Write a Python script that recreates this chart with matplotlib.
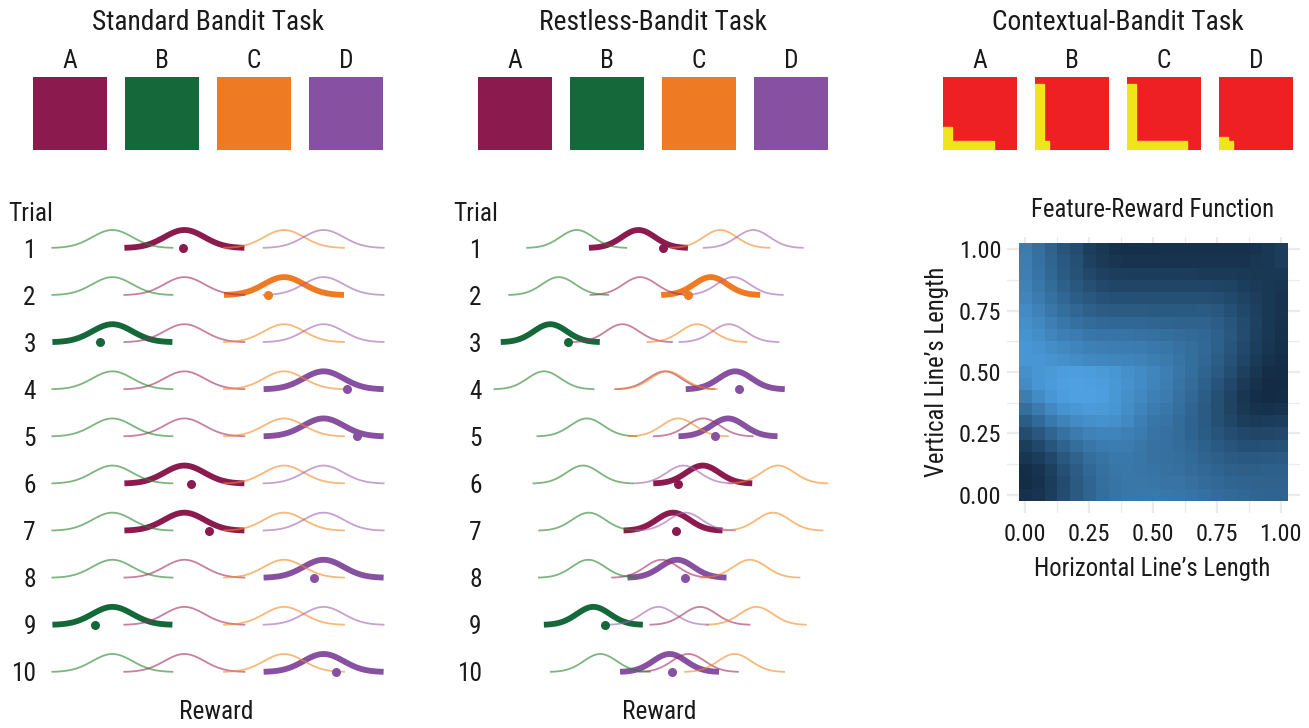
import numpy as np
import matplotlib
matplotlib.use("Agg")
import matplotlib.pyplot as plt
from matplotlib.colors import LinearSegmentedColormap
from matplotlib.patches import Rectangle
from matplotlib import font_manager

# ---------------- data ----------------
arms = ["A", "B", "C", "D"]
arm_colors = ["#8B1A4F", "#14683A", "#EE7A24", "#8750A1"]
thin_colors = ["#A22B61", "#26852A", "#F38921", "#A361B1"]
trials = list(range(1, 11))

# Standard bandit: fixed means per arm (A, B, C, D)
std_means = [7.22, 3.62, 12.2, 14.18]
std_choice = [0, 2, 1, 3, 3, 0, 0, 3, 1, 3]
std_reward = [7.15, 11.42, 3.0, 15.37, 15.87, 7.55, 8.45, 13.72, 2.75, 14.78]

# Restless bandit: means per trial and arm
rst_A = [9.6, 9.7, 8.63, 11.2, 13.53, 13.5, 11.7, 11.01, 13.33, 12.63]
rst_B = [5.86, 4.77, 4.26, 3.88, 6.48, 6.24, 6.59, 6.57, 6.87, 7.29]
rst_C = [14.55, 13.98, 13.15, 11.35, 12.02, 18.06, 17.76, 16.36, 16.75, 15.43]
rst_D = [16.56, 15.35, 15.09, 15.47, 15.03, 12.32, 12.45, 11.94, 10.81, 11.49]
rst_choice = [0, 2, 1, 3, 3, 0, 0, 3, 1, 3]
rst_reward = [11.07, 12.59, 5.31, 15.72, 14.26, 11.98, 11.88, 12.44, 7.58, 11.65]

# Contextual stimuli: line lengths (fraction of the square)
ctx_horizontal = [0.69, 0.19, 0.81, 0.19]
ctx_vertical = [0.31, 0.91, 0.91, 0.18]

# Feature-reward function (rows: vertical length 1.00 -> 0.00, cols: horizontal 0.00 -> 1.00)
grid_ticks = [0.00, 0.25, 0.50, 0.75, 1.00]
reward_grid = [
    [0.60,0.52,0.42,0.32,0.25,0.15,0.10,0.05,0.04,0.04,0.04,0.05,0.05,0.05,0.05,0.05,0.05,0.05,0.07,0.10,0.15],
    [0.62,0.53,0.44,0.34,0.27,0.17,0.12,0.08,0.07,0.07,0.07,0.07,0.07,0.07,0.07,0.07,0.07,0.07,0.09,0.10,0.14],
    [0.63,0.55,0.45,0.36,0.30,0.22,0.17,0.14,0.13,0.13,0.13,0.13,0.13,0.13,0.12,0.12,0.12,0.11,0.10,0.10,0.10],
    [0.65,0.57,0.48,0.40,0.33,0.27,0.23,0.20,0.20,0.20,0.20,0.20,0.20,0.20,0.20,0.19,0.18,0.15,0.12,0.10,0.08],
    [0.68,0.60,0.52,0.45,0.38,0.33,0.30,0.28,0.28,0.28,0.27,0.27,0.27,0.27,0.27,0.26,0.23,0.18,0.14,0.10,0.07],
    [0.72,0.65,0.57,0.50,0.45,0.40,0.37,0.36,0.36,0.36,0.35,0.35,0.35,0.35,0.36,0.33,0.28,0.22,0.16,0.10,0.07],
    [0.75,0.70,0.63,0.57,0.52,0.48,0.46,0.45,0.45,0.45,0.44,0.43,0.42,0.42,0.42,0.38,0.32,0.24,0.17,0.10,0.06],
    [0.78,0.74,0.68,0.63,0.60,0.56,0.55,0.54,0.54,0.53,0.52,0.50,0.49,0.47,0.45,0.40,0.33,0.25,0.16,0.10,0.05],
    [0.80,0.78,0.74,0.70,0.67,0.64,0.63,0.62,0.61,0.60,0.58,0.56,0.53,0.50,0.46,0.40,0.32,0.23,0.15,0.08,0.04],
    [0.80,0.80,0.78,0.75,0.73,0.70,0.69,0.68,0.67,0.65,0.62,0.59,0.55,0.50,0.45,0.38,0.30,0.20,0.12,0.06,0.03],
    [0.75,0.80,0.83,0.85,0.86,0.85,0.83,0.80,0.76,0.72,0.68,0.63,0.56,0.50,0.43,0.35,0.26,0.16,0.08,0.03,0.02],
    [0.72,0.80,0.84,0.87,0.88,0.87,0.85,0.82,0.77,0.72,0.67,0.62,0.55,0.48,0.40,0.31,0.22,0.12,0.05,0.01,0.00],
    [0.62,0.72,0.80,0.85,0.88,0.88,0.86,0.82,0.76,0.70,0.64,0.60,0.53,0.46,0.38,0.28,0.18,0.08,0.03,0.01,0.02],
    [0.50,0.60,0.70,0.78,0.82,0.84,0.83,0.80,0.74,0.67,0.60,0.57,0.51,0.44,0.36,0.27,0.18,0.10,0.06,0.05,0.07],
    [0.38,0.47,0.58,0.66,0.72,0.76,0.77,0.75,0.70,0.63,0.56,0.54,0.49,0.43,0.36,0.28,0.21,0.15,0.12,0.13,0.15],
    [0.25,0.33,0.44,0.53,0.60,0.65,0.67,0.67,0.64,0.60,0.54,0.52,0.48,0.43,0.37,0.31,0.26,0.22,0.20,0.21,0.23],
    [0.15,0.22,0.32,0.42,0.50,0.56,0.60,0.61,0.60,0.57,0.53,0.52,0.49,0.45,0.40,0.35,0.31,0.28,0.28,0.29,0.30],
    [0.08,0.13,0.22,0.33,0.42,0.50,0.55,0.58,0.58,0.56,0.53,0.52,0.50,0.47,0.43,0.39,0.36,0.34,0.34,0.35,0.36],
    [0.03,0.07,0.16,0.27,0.37,0.46,0.52,0.56,0.57,0.56,0.54,0.53,0.52,0.49,0.46,0.43,0.40,0.39,0.39,0.40,0.40],
    [0.02,0.05,0.13,0.24,0.35,0.44,0.51,0.55,0.57,0.57,0.56,0.55,0.54,0.52,0.49,0.46,0.44,0.43,0.42,0.42,0.42],
    [0.05,0.07,0.14,0.25,0.35,0.44,0.50,0.55,0.57,0.58,0.58,0.57,0.56,0.54,0.52,0.49,0.47,0.45,0.44,0.43,0.43],
]

# ---------------- font ----------------
entries = font_manager.fontManager.ttflist
names = {f.name for f in entries}
family = None
for cand in ["Roboto Condensed", "Liberation Sans Narrow", "Open Sans Condensed", "Noto Sans Condensed"]:
    if cand in names:
        family = cand
        break
stretch = "normal"
if family is None:
    cond = [f for f in entries if str(f.stretch) in ("condensed", "semi-condensed", "75", "87")
            and f.style == "normal"]
    fams = {f.name for f in cond}
    for cand in ["Roboto", "Noto Sans", "Open Sans", "DejaVu Sans", "Liberation Sans"]:
        if cand in fams:
            family = cand
            stretch = "condensed"
            break
if family is None:
    family = "DejaVu Sans"
plt.rcParams['font.family'] = [family, "DejaVu Sans"]
plt.rcParams['font.stretch'] = stretch

# ---------------- layout ----------------
W, H = 1309, 728
fig = plt.figure(figsize=(W / 100, H / 100), dpi=100)
TXT = "#1A1A1A"
FS = 18.3
FS_TITLE = 19.8
FS_HEAT = 17.8


def fx(p):
    return p / W


def fy(p):
    return 1 - p / H


def add_px_axes(x0, y0, x1, y1):
    return fig.add_axes([fx(x0), fy(y1), fx(x1) - fx(x0), fy(y0) - fy(y1)])


for label, cx in [("Standard Bandit Task", 208), ("Restless-Bandit Task", 653),
                  ("Contextual-Bandit Task", 1118)]:
    fig.text(fx(cx), fy(22), label, ha="center", va="center", fontsize=FS_TITLE, color=TXT)

sq_w, sq_gap, sq_top, sq_bot = 74, 92, 77, 150
for left0 in (33, 478):
    for i, (a, c) in enumerate(zip(arms, arm_colors)):
        x0 = left0 + i * sq_gap
        ax = add_px_axes(x0, sq_top, x0 + sq_w, sq_bot)
        ax.add_patch(Rectangle((0, 0), 1, 1, color=c))
        ax.set_xlim(0, 1); ax.set_ylim(0, 1); ax.axis("off")
        fig.text(fx(x0 + sq_w / 2), fy(61), a, ha="center", va="center", fontsize=FS, color=TXT)

bar = 0.12
for i, a in enumerate(arms):
    x0 = 943 + i * sq_gap
    ax = add_px_axes(x0, sq_top, x0 + sq_w, sq_bot)
    ax.add_patch(Rectangle((0, 0), 1, 1, color="#EE2024"))
    ax.add_patch(Rectangle((0, 0), bar, ctx_vertical[i], color="#F0E51A"))
    ax.add_patch(Rectangle((0, 0), ctx_horizontal[i], bar, color="#F0E51A"))
    ax.set_xlim(0, 1); ax.set_ylim(0, 1); ax.axis("off")
    fig.text(fx(x0 + sq_w / 2), fy(61), a, ha="center", va="center", fontsize=FS, color=TXT)

# ---------------- bandit panels ----------------
AMP = 0.382
SD = 1.0
row0_px, row_px = 248, 47.11
ytop_px, ybot_px = 200, 700
ylim = ((ybot_px - row0_px) / row_px + 1, (ytop_px - row0_px) / row_px + 1)


def draw_panel(ax, means_per_trial, choice, reward):
    for ti, t in enumerate(trials):
        mus = means_per_trial[ti]
        ch = choice[ti]
        xs = np.linspace(mus[ch] - 3 * SD, mus[ch] + 3 * SD, 120)
        ax.plot(xs, t - AMP * np.exp(-0.5 * ((xs - mus[ch]) / SD) ** 2),
                color=arm_colors[ch], lw=4.2, solid_capstyle="butt", zorder=2)
        for k in range(4):
            if k == ch:
                continue
            xs = np.linspace(mus[k] - 3 * SD, mus[k] + 3 * SD, 120)
            ax.plot(xs, t - AMP * np.exp(-0.5 * ((xs - mus[k]) / SD) ** 2),
                    color=thin_colors[k], lw=1.3, alpha=0.6, zorder=3)
        ax.plot([reward[ti]], [t], "o", color=arm_colors[ch], ms=6.5, mec="none", zorder=4)
    ax.set_ylim(*ylim)
    ax.set_yticks(trials)
    ax.set_xticks([])
    for s in ax.spines.values():
        s.set_visible(False)
    ax.tick_params(axis="y", length=0, labelsize=FS, labelcolor=TXT)


ax_s = add_px_axes(40, ytop_px, 400, ybot_px)
ax_s.set_xlim(0, 18)
draw_panel(ax_s, [std_means] * 10, std_choice, std_reward)
ax_s.tick_params(axis="y", pad=3)

rst_means = [list(r) for r in zip(rst_A, rst_B, rst_C, rst_D)]
ax_r = add_px_axes(490, ytop_px, 850, ybot_px)
ax_r.set_xlim(10 / 16.5, 10 / 16.5 + 360 / 16.5)
draw_panel(ax_r, rst_means, rst_choice, rst_reward)
ax_r.tick_params(axis="y", pad=6)

fig.text(fx(31), fy(214), "Trial", ha="center", va="center", fontsize=FS, color=TXT)
fig.text(fx(476), fy(214), "Trial", ha="center", va="center", fontsize=FS, color=TXT)
fig.text(fx(216), fy(712), "Reward", ha="center", va="center", fontsize=FS, color=TXT)
fig.text(fx(659), fy(712), "Reward", ha="center", va="center", fontsize=FS, color=TXT)

# ---------------- heatmap ----------------
ax_h = add_px_axes(1006.7, 236.7, 1300, 513)
cmap = LinearSegmentedColormap.from_list("gg", ["#132B43", "#56B1F7"])
Z = np.array(reward_grid)
n = Z.shape[0]
step = 1 / (n - 1)
ax_h.imshow(Z, cmap=cmap, vmin=0, vmax=1, extent=(-step / 2, 1 + step / 2, -step / 2, 1 + step / 2),
            origin="upper", aspect="auto", interpolation="nearest", zorder=2)
ax_h.set_xlim(-0.0716, 1.075)
ax_h.set_ylim(-0.075, 1.0514)
ax_h.set_xticks(grid_ticks)
ax_h.set_yticks(grid_ticks)
ax_h.set_xticklabels([f"{v:.2f}" for v in grid_ticks])
ax_h.set_yticklabels([f"{v:.2f}" for v in grid_ticks])
ax_h.set_xticks([0.125, 0.375, 0.625, 0.875], minor=True)
ax_h.set_yticks([0.125, 0.375, 0.625, 0.875], minor=True)
ax_h.grid(which="major", color="#EBEBEB", lw=1.6, zorder=0)
ax_h.grid(which="minor", color="#EBEBEB", lw=0.9, zorder=0)
ax_h.set_axisbelow(True)
for s in ax_h.spines.values():
    s.set_visible(False)
ax_h.tick_params(which="both", length=0, labelsize=FS_HEAT - 0.3, labelcolor=TXT)
ax_h.tick_params(axis="x", pad=7)
ax_h.tick_params(axis="y", pad=4)
fig.text(fx(1153), fy(210), "Feature-Reward Function", ha="center", va="center", fontsize=FS_HEAT, color=TXT)
fig.text(fx(1152), fy(569), "Horizontal Line\u2019s Length", ha="center", va="center", fontsize=FS_HEAT, color=TXT)
fig.text(fx(937), fy(372), "Vertical Line\u2019s Length", ha="center", va="center", rotation=90,
         fontsize=FS_HEAT, color=TXT)

fig.savefig("out.png", dpi=100)
